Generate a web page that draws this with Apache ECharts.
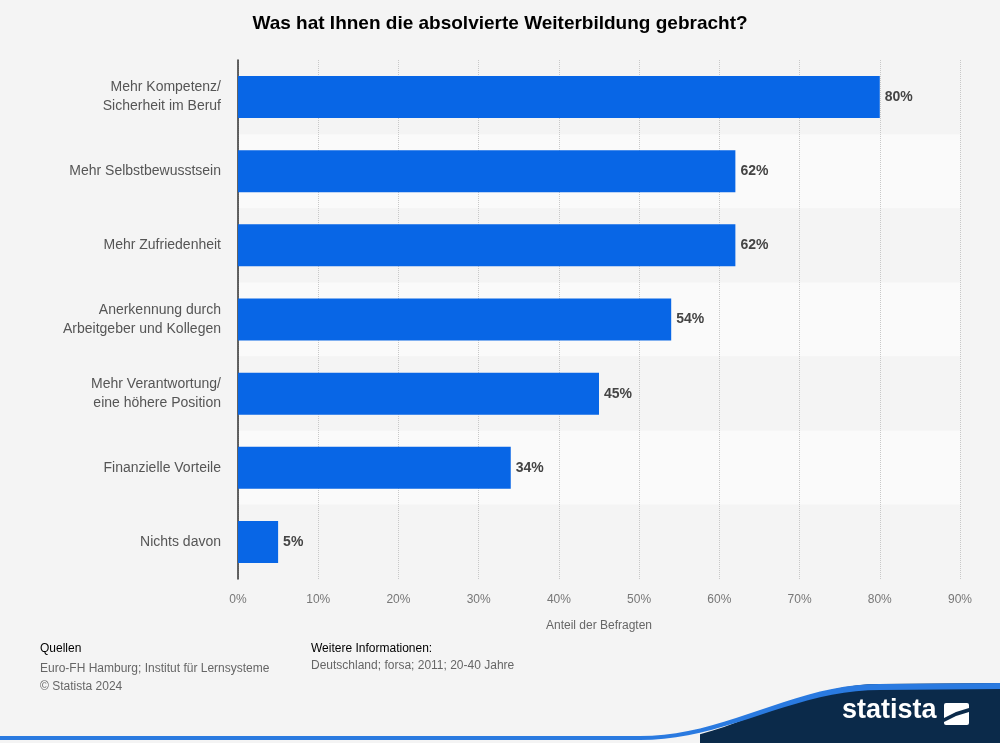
<!DOCTYPE html>
<html>
<head>
<meta charset="utf-8">
<script src="https://cdn.jsdelivr.net/npm/echarts@6/dist/echarts.min.js"></script>
<style>
  html, body { margin: 0; padding: 0; background: #f4f4f4; }
  #chart { width: 1000px; height: 743px; }
</style>
</head>
<body>
<div id="chart"></div>
<script>
const categories = [
  'Mehr Kompetenz/\nSicherheit im Beruf',
  'Mehr Selbstbewusstsein',
  'Mehr Zufriedenheit',
  'Anerkennung durch\nArbeitgeber und Kollegen',
  'Mehr Verantwortung/\neine höhere Position',
  'Finanzielle Vorteile',
  'Nichts davon'
]
const values = [80, 62, 62, 54, 45, 34, 5]
const xTicks = [0, 10, 20, 30, 40, 50, 60, 70, 80, 90]

const chart = echarts.init(document.getElementById('chart'))
const font = 'Arial, "Liberation Sans", sans-serif'

// footer swoosh outline (decoration only)
const swoosh = (yTop, yBottom) => {
  const pts = []
  for (let i = 0; i <= 20; i++) {
    const t = i / 20
    const x = 640 + t * 240
    const s = (1 - Math.cos(Math.PI * t)) / 2
    pts.push([x, yBottom - s * (yBottom - yTop)])
  }
  return pts
}
const dark = [[700, 743]].concat(swoosh(684, 743).filter(p => p[0] >= 700), [[1000, 683], [1000, 743]])
const blueTop = [[0, 736]].concat(swoosh(684, 736), [[1000, 683]])
const blueBottom = swoosh(690, 740).reverse()
const blue = blueTop.concat([[1000, 689]], blueBottom, [[0, 740]])

chart.setOption({
  backgroundColor: '#f4f4f4',
  title: {
    text: 'Was hat Ihnen die absolvierte Weiterbildung gebracht?',
    left: 'center',
    top: 9,
    textStyle: { fontFamily: font, fontSize: 19, fontWeight: 'bold', color: '#000' }
  },
  grid: { left: 238, right: 40, top: 60, bottom: 164 },
  xAxis: {
    type: 'value',
    min: xTicks[0],
    max: xTicks[xTicks.length - 1],
    interval: 10,
    name: 'Anteil der Befragten',
    nameLocation: 'middle',
    nameGap: 41,
    nameTextStyle: { fontFamily: font, fontSize: 12, color: '#666' },
    axisLine: { show: false },
    axisTick: { show: false },
    axisLabel: { formatter: '{value}%', fontFamily: font, fontSize: 12, color: '#777', margin: 15 },
    splitLine: { show: true, lineStyle: { color: '#c8c8c8', type: 'dotted' } }
  },
  yAxis: {
    type: 'category',
    data: categories,
    inverse: true,
    axisLine: { show: true, lineStyle: { color: '#333', width: 1.5 } },
    axisTick: { show: false },
    axisLabel: { fontFamily: font, fontSize: 14, color: '#555', lineHeight: 19, margin: 17, align: 'right' },
    splitArea: { show: true, areaStyle: { color: ['#f4f4f4', '#fafafa'] } }
  },
  series: [{
    type: 'bar',
    data: values,
    barWidth: 42,
    itemStyle: { color: '#0866e6' },
    label: {
      show: true,
      position: 'right',
      distance: 5,
      formatter: '{c}%',
      fontFamily: font,
      fontSize: 14,
      fontWeight: 'bold',
      color: '#444'
    }
  }],
  graphic: [
    { type: 'text', x: 40, y: 643, style: { text: 'Quellen', font: '12px ' + font, fill: '#000' } },
    { type: 'text', x: 40, y: 660, style: { text: 'Euro-FH Hamburg; Institut für Lernsysteme\n© Statista 2024', font: '12px ' + font, fill: '#666', lineHeight: 18 } },
    { type: 'text', x: 311, y: 643, style: { text: 'Weitere Informationen:', font: '12px ' + font, fill: '#000' } },
    { type: 'text', x: 311, y: 660, style: { text: 'Deutschland; forsa; 2011; 20-40 Jahre', font: '12px ' + font, fill: '#666' } },
    { type: 'polygon', shape: { points: dark }, style: { fill: '#0b2a4a' } },
    { type: 'polygon', shape: { points: blue }, style: { fill: '#2a7ae0' } },
    { type: 'text', x: 842, y: 697, style: { text: 'statista', font: 'bold 27px ' + font, fill: '#fff' } },
    { type: 'rect', shape: { x: 944, y: 703, width: 25, height: 22, r: 2 }, style: { fill: '#fff' } },
    { type: 'polygon', shape: { points: [[944, 718], [956, 712], [969, 708], [969, 712], [956, 716], [944, 722]] }, style: { fill: '#0b2a4a' } }
  ]
})
</script>
</body>
</html>
